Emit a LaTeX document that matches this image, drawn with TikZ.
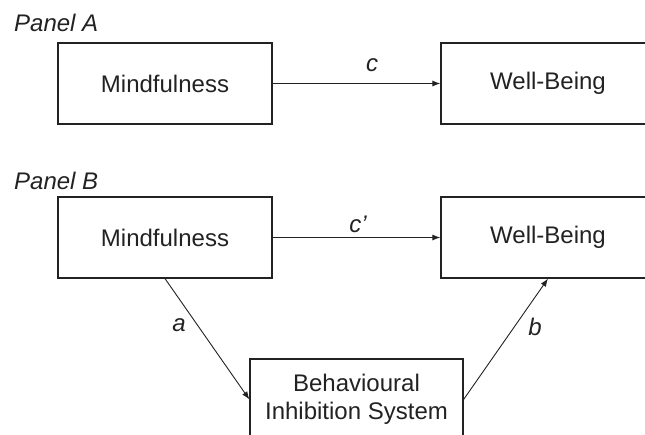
\documentclass[tikz,border=0pt]{standalone}
\usepackage{fontspec}
\setmainfont{Liberation Sans}
\usetikzlibrary{arrows.meta}
\definecolor{ink}{HTML}{222222}
\begin{document}
\begin{tikzpicture}[x=1pt,y=-1pt,
  box/.style={draw=ink,line width=1.2pt,minimum width=214pt,minimum height=81pt,inner sep=0pt,font=\fontsize{24}{28}\selectfont,text=ink,align=center},
  conn/.style={draw=ink,line width=0.9pt,-{Latex[length=8pt,width=6pt]}},
  lab/.style={font=\fontsize{24}{28}\selectfont\itshape,text=ink,inner sep=0pt},
  panel/.style={font=\fontsize{24}{28}\selectfont\itshape,text=ink,inner sep=0pt,anchor=west}]
\useasboundingbox (0,0) rectangle (645,434);
\clip (0,0) rectangle (645,434);
\node[panel] (pa) at (14,23) {Panel A};
\node[box] (a1) at (165,83.5) {Mindfulness};
\node[box] (a2) at (548,83.5) {Well-Being};
\draw[conn] (a1.east) -- (a2.west);
\node[lab] (lc) at (372,65) {c};

\node[panel] (pb) at (14,181) {Panel B};
\node[box] (b1) at (165,237.5) {Mindfulness};
\node[box] (b2) at (548,237.5) {Well-Being};
\node[box,minimum width=213pt] (bis) at (356.5,399.5) {Behavioural\\Inhibition System};
\draw[conn] (b1.east) -- (b2.west);
\node[lab] (lcp) at (358,224) {c’};
\draw[conn] (b1.south) -- (bis.west);
\draw[conn] (bis.east) -- (b2.south);
\node[lab] (la) at (179,325) {a};
\node[lab] (lb) at (535,327) {b};
\end{tikzpicture}
\end{document}
